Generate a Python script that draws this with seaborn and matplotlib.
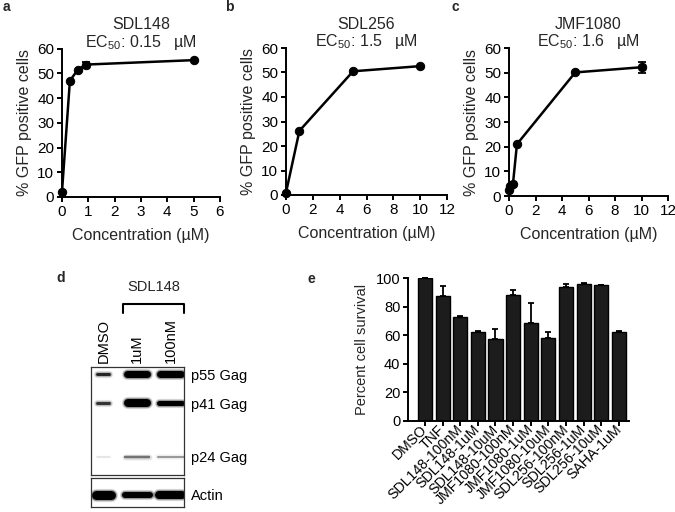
"""
Figure: GFP dose response for three compounds, Gag western blot and cell survival.
"""

import numpy as np
import matplotlib
matplotlib.use("Agg")
import matplotlib.pyplot as plt
import matplotlib.transforms as mtransforms
import seaborn as sns

sns.set_style("ticks")
plt.rcParams['font.family'] = ['Liberation Sans', 'DejaVu Sans']
plt.rcParams['mathtext.default'] = 'regular'
plt.rcParams['axes.linewidth'] = 1.4
plt.rcParams['xtick.major.width'] = 1.4
plt.rcParams['ytick.major.width'] = 1.4
plt.rcParams['xtick.major.size'] = 3.5
plt.rcParams['ytick.major.size'] = 3.5
plt.rcParams['xtick.color'] = 'black'
plt.rcParams['ytick.color'] = 'black'
plt.rcParams['axes.edgecolor'] = 'black'

# ---- data: panels a-c (% GFP positive cells) ----
sdl148_conc = [0, 0.3, 0.6, 0.9, 5]
sdl148_gfp = [2.2, 47.0, 51.4, 53.5, 55.3]
sdl148_err = [0, 0, 0, 1.2, 0]

sdl256_conc = [0, 1, 5, 10]
sdl256_gfp = [1.0, 26.2, 50.5, 52.6]
sdl256_err = [0, 0, 0, 0]

jmf1080_conc = [0, 0.1, 0.3, 0.6, 5, 10]
jmf1080_gfp = [2.6, 4.0, 5.0, 21.0, 50.1, 52.2]
jmf1080_err = [0, 0, 0, 0, 0, 2.2]

# ---- data: panel d (western blot) ----
lanes = ["DMSO", "1uM", "100nM"]
gag_names = ["p55 Gag", "p41 Gag", "p24 Gag"]
gag_kda = [55, 41, 24]
# darkness (0-1) per lane for each band
p55_dark = [0.85, 1.0, 1.0]
p41_dark = [0.80, 1.0, 1.0]
p24_dark = [0.12, 0.55, 0.40]
actin_dark = [1.0, 1.0, 1.0]
# band thickness (px) per lane
p55_thick = [3, 7, 7]
p41_thick = [3, 8, 5]
p24_thick = [1.5, 2.5, 2]
actin_thick = [9, 6, 8]

# ---- data: panel e (cell survival) ----
treatments = ["DMSO", "TNF", "SDL148-100nM", "SDL148-1uM", "SDL148-10uM",
              "JMF1080-100nM", "JMF1080-1uM", "JMF1080-10uM",
              "SDL256-100nM", "SDL256-1uM", "SDL256-10uM", "SAHA-1uM"]
survival = [100, 87.2, 72.6, 62.0, 57.2, 87.8, 68.6, 58.1, 94.0, 95.9, 94.8, 62.0]
survival_err = [0, 7.0, 0.5, 0.8, 7.3, 3.5, 14.0, 4.0, 1.5, 0.3, 0.6, 0.6]

W, H = 675, 512
FS = 11
LFS = 11.5


def px_axes(fig, left, top, right, bottom):
    """Add axes given pixel edges (origin top-left)."""
    return fig.add_axes([left / W, 1 - bottom / H, (right - left) / W, (bottom - top) / H])


def dose_panel(ax, conc, gfp, err, name, ec50, xmax, xstep):
    sns.lineplot(x=conc, y=gfp, ax=ax, color='black', lw=1.8, marker='o',
                 markersize=6, markeredgecolor='black', clip_on=False)
    idx = [i for i, e in enumerate(err) if e > 0]
    if idx:
        ax.errorbar([conc[i] for i in idx], [gfp[i] for i in idx],
                    yerr=[err[i] for i in idx], fmt='s', color='black',
                    markersize=5, elinewidth=1.3, capsize=3, capthick=1.3,
                    clip_on=False)
    ax.set_xlim(0, xmax)
    ax.set_ylim(0, 60)
    ax.set_xticks(np.arange(0, xmax + 0.1, xstep))
    ax.set_yticks(np.arange(0, 61, 10))
    ax.tick_params(labelsize=FS, pad=2)
    ax.set_xlabel('Concentration (\u00b5M)', fontsize=LFS, labelpad=7)
    ax.set_ylabel('% GFP positive cells', fontsize=LFS, labelpad=4)
    sns.despine(ax=ax)
    ax.annotate(name, xy=(0.5, 1), xycoords='axes fraction', xytext=(0, 17),
                textcoords='offset points', ha='center', va='center', fontsize=LFS)
    ax.annotate('EC$_{50}$: ' + ec50 + '   \u00b5M', xy=(0.5, 1), xycoords='axes fraction',
                xytext=(0, 4.5), textcoords='offset points', ha='center', va='center',
                fontsize=LFS)


fig = plt.figure(figsize=(W / 100, H / 100), dpi=100)

ax_a = px_axes(fig, 62, 48.5, 220, 197)
dose_panel(ax_a, sdl148_conc, sdl148_gfp, sdl148_err, 'SDL148', '0.15', 6, 1)
ax_b = px_axes(fig, 286, 48, 447, 195)
dose_panel(ax_b, sdl256_conc, sdl256_gfp, sdl256_err, 'SDL256', '1.5', 12, 2)
ax_c = px_axes(fig, 509, 48, 668, 196)
dose_panel(ax_c, jmf1080_conc, jmf1080_gfp, jmf1080_err, 'JMF1080', '1.6', 12, 2)

# ---- panel d: western blot ----
LANE_PX = 33.5
lane_w_px = [15, 27, 28]
actin_w_px = [24, 31, 31]


def draw_bands(ax, y, dark, thick, widths):
    for i in range(len(lanes)):
        lw = thick[i] * 0.72
        half = max((widths[i] - thick[i]) / 2, 0.5) / LANE_PX
        grey = str(1 - dark[i])
        # soft halo layers, then the band core
        for extra, alpha in [(3.0, 0.15), (1.6, 0.3)]:
            ax.plot([i - half, i + half], [y, y], color=grey, lw=lw + extra,
                    alpha=alpha * dark[i], solid_capstyle='round')
        ax.plot([i - half, i + half], [y, y], color=grey, lw=lw,
                solid_capstyle='round')


xlim_blot = (-12.5 / LANE_PX, 80.5 / LANE_PX)

ax_d = px_axes(fig, 91, 367, 184, 475)
ax_d.set_yscale('log')
ax_d.set_ylim(20, 59)
ax_d.set_xlim(*xlim_blot)
for name, kda, dark, thick in zip(gag_names, gag_kda, [p55_dark, p41_dark, p24_dark],
                                  [p55_thick, p41_thick, p24_thick]):
    draw_bands(ax_d, kda, dark, thick, lane_w_px)
ax_d.set_yticks(gag_kda)
ax_d.set_yticklabels(gag_names)
ax_d.minorticks_off()
ax_d.yaxis.tick_right()
ax_d.tick_params(axis='y', length=0, pad=5, labelsize=10.5)
ax_d.set_xticks(range(len(lanes)))
ax_d.set_xticklabels(lanes, rotation=90)
ax_d.xaxis.tick_top()
ax_d.tick_params(axis='x', length=0, pad=3, labelsize=10.5)
for s in ax_d.spines.values():
    s.set_linewidth(0.9)
    s.set_color('#333333')

ax_act = px_axes(fig, 91, 478, 184, 507)
ax_act.set_xlim(*xlim_blot)
ax_act.set_ylim(-1, 1)
draw_bands(ax_act, -0.15, actin_dark, actin_thick, actin_w_px)
ax_act.set_xticks([])
ax_act.set_yticks([-0.15])
ax_act.set_yticklabels(['Actin'])
ax_act.yaxis.tick_right()
ax_act.tick_params(axis='y', length=0, pad=5, labelsize=10.5)
for s in ax_act.spines.values():
    s.set_linewidth(0.9)
    s.set_color('#333333')

# bracket over treated lanes
br = mtransforms.blended_transform_factory(ax_d.transData, ax_d.transAxes)
ax_d.plot([0.58, 0.58, 2.4, 2.4], [1.50, 1.583, 1.583, 1.50], color='black',
          lw=1.5, transform=br, clip_on=False)
ax_d.text(1.5, 1.74, 'SDL148', transform=br, ha='center', va='center', fontsize=10.5)

# ---- panel e: cell survival ----
ax_e = px_axes(fig, 408, 278, 629, 421)
sns.barplot(x=treatments, y=survival, ax=ax_e, color='#1c1c1c', edgecolor='black',
            linewidth=1, width=0.8, errorbar=None, saturation=1)
ax_e.errorbar(range(len(treatments)), survival,
              yerr=[np.zeros(len(survival_err)), survival_err], fmt='none',
              ecolor='black', elinewidth=1.3, capsize=2.5, capthick=1.3, clip_on=False)
ax_e.set_xlim(-0.96, 11.57)
ax_e.set_ylim(0, 100)
ax_e.set_yticks(np.arange(0, 101, 20))
ax_e.set_xticks(range(len(treatments)))
ax_e.set_xticklabels(treatments, rotation=45, ha='right', va='center',
                     rotation_mode='anchor', fontsize=10.2)
ax_e.tick_params(axis='y', labelsize=10.5, pad=2)
ax_e.tick_params(axis='x', pad=1)
ax_e.set_ylabel('Percent cell survival', fontsize=10.5, labelpad=5)
ax_e.set_xlabel('')
sns.despine(ax=ax_e)

# panel letters
for letter, x, y in [('a', 3, 7), ('b', 225, 7), ('c', 452, 7), ('d', 56, 278), ('e', 308, 279)]:
    fig.text(x / W, 1 - y / H, letter, fontsize=10, fontweight='bold', ha='left', va='center')

fig.savefig('out.png', dpi=100)
